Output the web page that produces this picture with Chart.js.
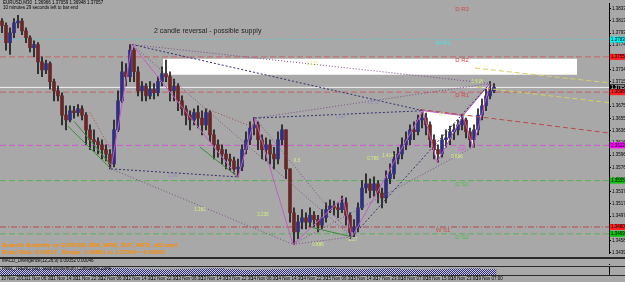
<!DOCTYPE html>
<html>
<head>
<meta charset="utf-8">
<title>EURUSD M30</title>
<script src="https://cdn.jsdelivr.net/npm/chart.js@4.4.1/dist/chart.umd.min.js"></script>
<style>
  html, body { margin: 0; padding: 0; background: #a8a8a8; }
  #wrap { position: relative; width: 625px; height: 282px; overflow: hidden; background: #a8a8a8; }
  #wrap canvas { position: absolute; left: 0; }
  .sep { position: absolute; left: 0; width: 625px; background: #2a2a2a; }
</style>
</head>
<body>
<div id="wrap">
  <canvas id="priceChart" width="625" height="257" style="top:0px"></canvas>
  <canvas id="macdChart" width="625" height="7" style="top:259px"></canvas>
  <canvas id="pwrChart" width="625" height="15" style="top:267px"></canvas>
  <div class="sep" style="top:257px;height:2px"></div>
  <div class="sep" style="top:266px;height:1px"></div>
  <div class="sep" style="top:275px;height:1px"></div>
</div>
<script>
Chart.defaults.font.family = "Arial, 'Liberation Sans', sans-serif";
Chart.defaults.animation = false;

// ---- EURUSD M30 candles (open = previous close) ----
const firstOpen = 1.3813;
const closes = [
  1.3806,1.3778,1.3794,1.3810,1.3813,1.3797,1.3786,1.3770,1.3775,1.3747,
  1.3734,1.3744,1.3715,1.3700,1.3692,1.3661,1.3653,1.3668,1.3665,1.3671,
  1.3661,1.3637,1.3621,1.3618,1.3613,1.3605,1.3598,1.3582,1.3637,1.3684,
  1.3731,1.3723,1.3766,1.3731,1.3700,1.3708,1.3692,1.3703,1.3697,1.3715,
  1.3728,1.3723,1.3700,1.3708,1.3684,1.3671,1.3661,1.3653,1.3665,1.3656,
  1.3645,1.3665,1.3629,1.3613,1.3605,1.3598,1.3590,1.3587,1.3574,1.3577,
  1.3605,1.3621,1.3640,1.3645,1.3621,1.3605,1.3613,1.3598,1.3590,1.3621,
  1.3637,1.3574,1.3503,1.3472,1.3488,1.3495,1.3488,1.3499,1.3492,1.3483,
  1.3495,1.3508,1.3514,1.3511,1.3508,1.3519,1.3499,1.3472,1.3480,1.3511,
  1.3543,1.3550,1.3539,1.3550,1.3535,1.3527,1.3558,1.3566,1.3590,1.3598,
  1.3613,1.3621,1.3637,1.3634,1.3653,1.3656,1.3645,1.3621,1.3605,1.3598,
  1.3621,1.3624,1.3634,1.3637,1.3645,1.3653,1.3634,1.3621,1.3637,1.3661,
  1.3676,1.3692,1.3700,1.3706
];
const highs = [
  1.3817,1.3810,1.3802,1.3817,1.3822,1.3817,1.3802,1.3789,1.3781,1.3778,
  1.3755,1.3750,1.3747,1.3719,1.3708,1.3697,1.3676,1.3676,1.3675,1.3678,
  1.3676,1.3665,1.3645,1.3637,1.3624,1.3621,1.3613,1.3605,1.3653,1.3700,
  1.3747,1.3744,1.3775,1.3770,1.3739,1.3715,1.3712,1.3715,1.3712,1.3723,
  1.3739,1.3750,1.3731,1.3719,1.3712,1.3692,1.3676,1.3668,1.3671,1.3676,
  1.3668,1.3671,1.3668,1.3637,1.3621,1.3613,1.3605,1.3598,1.3593,1.3590,
  1.3613,1.3634,1.3650,1.3657,1.3650,1.3629,1.3624,1.3621,1.3609,1.3634,
  1.3645,1.3637,1.3574,1.3511,1.3499,1.3508,1.3503,1.3511,1.3505,1.3499,
  1.3508,1.3519,1.3524,1.3522,1.3519,1.3530,1.3527,1.3503,1.3492,1.3519,
  1.3555,1.3566,1.3558,1.3561,1.3555,1.3543,1.3571,1.3582,1.3602,1.3609,
  1.3624,1.3634,1.3645,1.3650,1.3661,1.3665,1.3664,1.3650,1.3629,1.3613,
  1.3629,1.3637,1.3643,1.3646,1.3653,1.3661,1.3656,1.3640,1.3645,1.3671,
  1.3687,1.3703,1.3715,1.3712
];
const lows = [
  1.3794,1.3766,1.3759,1.3786,1.3802,1.3791,1.3778,1.3763,1.3755,1.3728,
  1.3723,1.3728,1.3703,1.3684,1.3684,1.3645,1.3637,1.3650,1.3656,1.3659,
  1.3653,1.3613,1.3605,1.3602,1.3598,1.3590,1.3587,1.3574,1.3577,1.3634,
  1.3681,1.3708,1.3715,1.3715,1.3692,1.3684,1.3684,1.3687,1.3687,1.3692,
  1.3708,1.3715,1.3684,1.3684,1.3668,1.3661,1.3645,1.3637,1.3645,1.3640,
  1.3629,1.3637,1.3618,1.3590,1.3593,1.3582,1.3574,1.3571,1.3566,1.3561,
  1.3571,1.3598,1.3613,1.3629,1.3605,1.3590,1.3587,1.3582,1.3574,1.3582,
  1.3613,1.3558,1.3488,1.3452,1.3461,1.3477,1.3477,1.3480,1.3480,1.3472,
  1.3477,1.3488,1.3503,1.3499,1.3495,1.3503,1.3483,1.3461,1.3464,1.3472,
  1.3508,1.3535,1.3527,1.3530,1.3519,1.3511,1.3519,1.3550,1.3558,1.3582,
  1.3590,1.3605,1.3613,1.3621,1.3629,1.3640,1.3629,1.3609,1.3590,1.3585,
  1.3593,1.3609,1.3613,1.3621,1.3629,1.3637,1.3624,1.3609,1.3609,1.3629,
  1.3653,1.3668,1.3687,1.3697
];
const headerLines = ['EURUSD,M30  1.36966 1.37059 1.36948 1.37057', '10 minutes 29 seconds left to bar end'];
const currentPrice = 1.37057;

// price axis labels
const priceTicks = ['1.38330','1.38135','1.37935','1.37740','1.37545','1.37345','1.37150','1.36950','1.36755','1.36555',
  '1.36360','1.36160','1.35960','1.35765','1.35565','1.35370','1.35175','1.34975','1.34780','1.34580','1.34390'];

// time axis labels
const timeLabels = ['10 Nov 2013','11 Nov 06:30','11 Nov 14:30','11 Nov 22:30','12 Nov 06:30','12 Nov 14:30','12 Nov 22:30',
  '13 Nov 06:30','13 Nov 14:30','13 Nov 22:30','14 Nov 06:30','14 Nov 14:30','14 Nov 22:30','15 Nov 06:30','15 Nov 14:30',
  '17 Nov 23:00','18 Nov 07:00','18 Nov 15:00','18 Nov 23:00','19 Nov 07:00'];

// pivot levels
const levelNames  = ['D R3', 'W R1', 'D R2', 'D R1', 'DP', 'D S1', 'W S1', 'D S2'];
const levelPrices = [1.3838, 1.3783, 1.3755, 1.3698, 1.3612, 1.3555, 1.3480, 1.3469];

// ZUP pattern pivots: [candle index, price]
const pivots = {
  X: [27.25, 1.3574], A: [32.5, 1.3775], B: [59, 1.3561], C: [63.25, 1.3656],
  L: [72.75, 1.3452], K: [85.25, 1.3527], M: [87.5, 1.3464], D: [105.25, 1.3668],
  E: [108.75, 1.3585], F: [115.25, 1.3660], G: [117.75, 1.3609], H: [122, 1.3712]
};
const zigzag = ['X','A','B','C','L','K','M','D','E','F','G','H'];
const navyLegs = [['A','D'], ['X','B'], ['C','D'], ['M','H']];
const purpleLegs = [['A','H'], ['C','H'], ['X','L'], ['A','M'], ['C','M'], ['L','M'], ['L','G']];
const greenLegs = [[[16.5, 1.3643], [27.25, 1.3574]], [[18, 1.3651], [27.25, 1.3580]], [[49.5, 1.3609], [59, 1.3561]], [[77, 1.3480], [87.5, 1.3464]]];
const redLegs = [[[22, 1.3665], [27.25, 1.3605]], [[51.25, 1.3671], [63.25, 1.3640]]];
const trendRed = [[104.5, 1.3670], [151.75, 1.3632]];
const trendYellow1 = [[118.25, 1.3737], [151.75, 1.3713]];
const trendYellow2 = [[118.75, 1.3706], [151.75, 1.3681]];
const supplyBox = { from: 40.25, to: 143.75, top: 1.3752, bottom: 1.3726 };

// fib ratio labels
const ratioText  = ['1.272','1.00','1.382','2.236','0.5','1.272','1.00','0.786','1.414','0.886','1.27','0.5','0.886','1.618'];
const ratioIdx   = [77.5, 42.75, 49.5, 65.25, 73.75, 92.75, 84.5, 92.75, 96.5, 79, 87.75, 110, 113.75, 118.75];
const ratioPrice = [1.3744, 1.3563, 1.3508, 1.3500, 1.3587, 1.3681, 1.3659, 1.3590, 1.3595, 1.3452, 1.3459, 1.3661, 1.3593, 1.3715];
const ratioTone  = ['lime','grey','lime','lime','lime','grey','grey','lime','lime','lime','lime','lime','lime','lime'];

// indicator windows
const macdLine = [0.3,0.2,0.3,0.1,0.0,-0.1,0.0,0.1,0.1,0.0,-0.1,0.0,0.1,0.1,0.0,-0.2,
  -0.4,-0.5,-0.6,-0.4,-0.3,-0.2,-0.1,0.0,0.1,0.2,0.2,0.1,0.2,0.3,0.3];
const sellMarks = [0.25, 1.25, 4.5, 54.5, 55.75, 60.75, 62.75, 65.25, 96.5, 112.5];
const buyMarks = [20, 70.75, 88.75, 98.25, 102.5, 106.5, 108, 110.25];
const pwrValues = [0.7,0.75,0.8,0.7,0.65,0.7,0.8,0.85,0.75,0.7,0.65,0.7,0.75,0.8,0.7,0.6,
  0.65,0.7,0.75,0.8,0.85,0.75,0.7,0.75,0.8,0.7,0.65,0.7,0.75,0.8,0.7];

// ---- styles ----
const X_MIN = -0.5, X_MAX = 151.75;
const levelStyle = {
  'D R3': { line: null, text: '#d04848' },
  'W R1': { line: '#62c6cc', dash: [3, 3], text: '#40e6e6' },
  'D R2': { line: '#c66464', dash: [6, 3], text: '#d84040' },
  'D R1': { line: '#c66464', dash: [6, 3], text: '#d84040' },
  'DP':   { line: '#cc5ccc', dash: [6, 3], text: '#d860d8' },
  'D S1': { line: '#5cb05c', dash: [6, 3], text: '#4cc04c' },
  'W S1': { line: '#b04848', dash: [6, 2, 1, 2], text: '#d04848' },
  'D S2': { line: '#5cb05c', dash: [6, 3], text: '#4cc04c' }
};
const levelLabelIdx = { W: 110.25, D: 115 };
const tagColors = [
  [1.3783, '#00f0f0', '#000'], [1.3755, '#ff2020', '#000'], [currentPrice, '#000', '#fff'],
  [1.3698, '#ff2020', '#000'], [1.3612, '#ff00ff', '#000'], [1.3555, '#10c010', '#000'],
  [1.3480, '#ff2020', '#000'], [1.3469, '#10c010', '#000']
];

const opens = closes.map((c, i) => (i === 0 ? firstOpen : closes[i - 1]));
const pt = k => ({ x: pivots[k][0], y: pivots[k][1] });
const xy = ([x, y]) => ({ x, y });

function lineSet(points, color, dash, width, order) {
  return {
    type: 'line', data: points, borderColor: color, borderWidth: width ?? 1,
    borderDash: dash || [], pointRadius: 0, fill: false, tension: 0, order: order ?? 2
  };
}
function fillPair(top, bottom, color, edge) {
  const a = lineSet(top, edge || 'rgba(0,0,0,0)', [], edge ? 1 : 0, 9);
  a.fill = '+1';
  a.backgroundColor = color;
  const b = lineSet(bottom, 'rgba(0,0,0,0)', [], 0, 9);
  return [a, b];
}

const datasets = [];
datasets.push(...fillPair(
  [{ x: supplyBox.from, y: supplyBox.top }, { x: supplyBox.to, y: supplyBox.top }],
  [{ x: supplyBox.from, y: supplyBox.bottom }, { x: supplyBox.to, y: supplyBox.bottom }], '#ffffff'));
datasets.push(...fillPair([pt('D'), pt('F')], [pt('D'), pt('E'), pt('F')], '#ffffff', '#c45cc4'));
datasets.push(...fillPair([pt('F'), pt('H')], [pt('F'), pt('G'), pt('H')], '#ffffff', '#c45cc4'));

levelNames.forEach((n, i) => {
  const s = levelStyle[n];
  if (!s.line) return;
  datasets.push(lineSet([{ x: X_MIN, y: levelPrices[i] }, { x: X_MAX, y: levelPrices[i] }], s.line, s.dash, 1, 8));
});
datasets.push(lineSet([{ x: X_MIN, y: currentPrice }, { x: X_MAX, y: currentPrice }], '#f2f2f2', [], 1, 8));

datasets.push(lineSet(trendRed.map(xy), '#b44c4c', [5, 3], 1, 3));
datasets.push(lineSet(trendYellow1.map(xy), '#d8d060', [5, 3], 1, 3));
datasets.push(lineSet(trendYellow2.map(xy), '#d8d060', [5, 3], 1, 3));

// candles: wicks and bodies as floating bars
datasets.push({
  type: 'bar', data: closes.map((c, i) => ({ x: i, y: [lows[i], highs[i]] })),
  backgroundColor: '#1a1a1a', barThickness: 1, grouped: false, order: 6
});
datasets.push({
  type: 'bar', data: closes.map((c, i) => ({ x: i, y: [opens[i], c] })),
  backgroundColor: closes.map((c, i) => (c >= opens[i] ? '#30307e' : '#6c2626')),
  borderColor: '#141414', borderWidth: 0, barThickness: 3, minBarLength: 1, grouped: false, order: 5
});

navyLegs.forEach(([a, b]) => datasets.push(lineSet([pt(a), pt(b)], '#30306e', [2, 2], 1, 2)));
purpleLegs.forEach(([a, b]) => datasets.push(lineSet([pt(a), pt(b)], '#7c4c88', [1, 2], 1, 2)));
greenLegs.forEach(l => datasets.push(lineSet(l.map(xy), '#3c8c3c', [], 1, 2)));
redLegs.forEach(l => datasets.push(lineSet(l.map(xy), '#a84848', [1, 2], 1, 2)));
datasets.push(lineSet(zigzag.map(pt), '#c45cc4', [], 1, 1));

function drawText(ctx, txt, x, y, color, font, align, base) {
  ctx.font = font;
  ctx.fillStyle = color;
  ctx.textAlign = align || 'left';
  ctx.textBaseline = base || 'middle';
  ctx.fillText(txt, x, y);
}

const priceOverlay = {
  id: 'priceOverlay',
  afterDatasetsDraw(chart) {
    const { ctx, scales: { x, y } } = chart;
    ctx.save();
    drawText(ctx, headerLines[0], 3, 3, '#000', '4.5px Arial', 'left');
    drawText(ctx, headerLines[1], 3, 8, '#000', '4.5px Arial', 'left');
    drawText(ctx, '2 candle reversal - possible supply', 154, 31, '#1e1e1e', '7px Arial', 'left');
    levelNames.forEach((n, i) => {
      const px = x.getPixelForValue(levelLabelIdx[n[0]]);
      drawText(ctx, n, px, y.getPixelForValue(levelPrices[i]) + 3.5, levelStyle[n].text, '6px Arial', 'center');
    });
    ratioText.forEach((t, i) => {
      drawText(ctx, t, x.getPixelForValue(ratioIdx[i]), y.getPixelForValue(ratioPrice[i]),
        ratioTone[i] === 'lime' ? '#d6f27a' : '#8c8cb4', '4.5px Arial', 'center');
    });
    drawText(ctx, 'Bearish Butterfly on EURUSD 30M, WRB_ZUP_INFO_v02.mq4', 2, 245, '#ff8c00', 'bold 6px Arial', 'left');
    drawText(ctx, 'Entry Risk: 0.00217 , Range: 1.36801 to 1.37304 = 0.00503', 2, 252, '#ff8c00', 'bold 6px Arial', 'left');
    ctx.restore();
  },
  afterDraw(chart) {
    const { ctx, scales: { y } } = chart;
    ctx.save();
    tagColors.forEach(([p, bg, fg]) => {
      const py = y.getPixelForValue(p);
      ctx.fillStyle = bg;
      ctx.fillRect(y.left + 1, py - 3, 16, 6);
      drawText(ctx, p.toFixed(5), y.left + 2, py, fg, '4.5px Arial', 'left');
    });
    ctx.restore();
  }
};

const rightAxis = (extra) => Object.assign({
  position: 'right',
  grid: { display: false, drawTicks: false },
  border: { display: true, color: '#000', width: 1 },
  ticks: { display: false },
  afterFit(s) { s.width = 16; }
}, extra);

new Chart(document.getElementById('priceChart'), {
  type: 'bar',
  data: { datasets },
  options: {
    responsive: false, devicePixelRatio: 1, animation: false, events: [],
    layout: { padding: 0 },
    plugins: { legend: { display: false }, tooltip: { enabled: false }, filler: { propagate: false, drawTime: 'beforeDatasetsDraw' } },
    scales: {
      x: { type: 'linear', min: X_MIN, max: X_MAX, offset: false, display: false },
      y: rightAxis({
        min: 1.34375, max: 1.3841,
        grid: { display: true, drawOnChartArea: false, drawTicks: true, tickLength: 2, color: '#000' },
        ticks: { display: true, autoSkip: false, color: '#000', padding: 1, font: { size: 4.5 }, callback: v => v.toFixed(5) },
        afterBuildTicks(s) { s.ticks = priceTicks.map(t => ({ value: parseFloat(t) })); }
      })
    }
  },
  plugins: [priceOverlay]
});

new Chart(document.getElementById('macdChart'), {
  type: 'line',
  data: {
    datasets: [
      { data: macdLine.map((v, k) => ({ x: k * 4, y: v })), borderColor: '#1c1c64', borderWidth: 2, pointRadius: 0, tension: 0.3 },
      { data: sellMarks.map(v => ({ x: v, y: 0.55 })), showLine: false, pointStyle: 'cross', pointRadius: 2, borderColor: '#e01414', borderWidth: 1 },
      { data: buyMarks.map(v => ({ x: v, y: -0.1 })), showLine: false, pointStyle: 'cross', pointRadius: 2, borderColor: '#14c014', borderWidth: 1 }
    ]
  },
  options: {
    responsive: false, devicePixelRatio: 1, animation: false, events: [],
    layout: { padding: 0 },
    plugins: { legend: { display: false }, tooltip: { enabled: false } },
    scales: {
      x: { type: 'linear', min: X_MIN, max: X_MAX, display: false },
      y: rightAxis({ min: -1, max: 1 })
    }
  },
  plugins: [{
    id: 'macdTitle',
    afterDraw(chart) {
      drawText(chart.ctx, 'MACD_Divergence(12,26,9) 0.00052 0.00046', 2, 2, '#000', '4.5px Arial', 'left');
    }
  }]
});

const dotCanvas = document.createElement('canvas');
dotCanvas.width = 2; dotCanvas.height = 2;
const dctx = dotCanvas.getContext('2d');
dctx.fillStyle = '#c8c8d8'; dctx.fillRect(0, 0, 2, 2);
dctx.fillStyle = '#30307a'; dctx.fillRect(0, 0, 1, 1); dctx.fillRect(1, 1, 1, 1);
const dotPattern = dctx.createPattern(dotCanvas, 'repeat');

new Chart(document.getElementById('pwrChart'), {
  type: 'bar',
  data: {
    datasets: [{
      data: pwrValues.map((v, k) => ({ x: k * 4 + 1.5, y: v })),
      backgroundColor: dotPattern, barThickness: 16, borderWidth: 0
    }]
  },
  options: {
    responsive: false, devicePixelRatio: 1, animation: false, events: [],
    layout: { padding: 0 },
    plugins: { legend: { display: false }, tooltip: { enabled: false } },
    scales: {
      x: {
        type: 'linear', min: X_MIN, max: X_MAX, offset: false,
        grid: { display: false, drawTicks: false }, border: { display: false },
        ticks: { autoSkip: false, maxRotation: 0, align: 'start', padding: 1, color: '#000', font: { size: 4.5 },
          callback: (v, i) => timeLabels[i] },
        afterBuildTicks(s) { s.ticks = timeLabels.map((t, k) => ({ value: -0.25 + 6.25 * k })); },
        afterFit(s) { s.height = 7; }
      },
      y: rightAxis({ min: 0, max: 1 })
    }
  },
  plugins: [{
    id: 'pwrTitle',
    afterDatasetsDraw(chart) {
      drawText(chart.ctx, 'PWR_TREND (30)  Slow Momentum Confluence Zone', 2, 2, '#000', '4.5px Arial', 'left');
    }
  }]
});
</script>
</body>
</html>
